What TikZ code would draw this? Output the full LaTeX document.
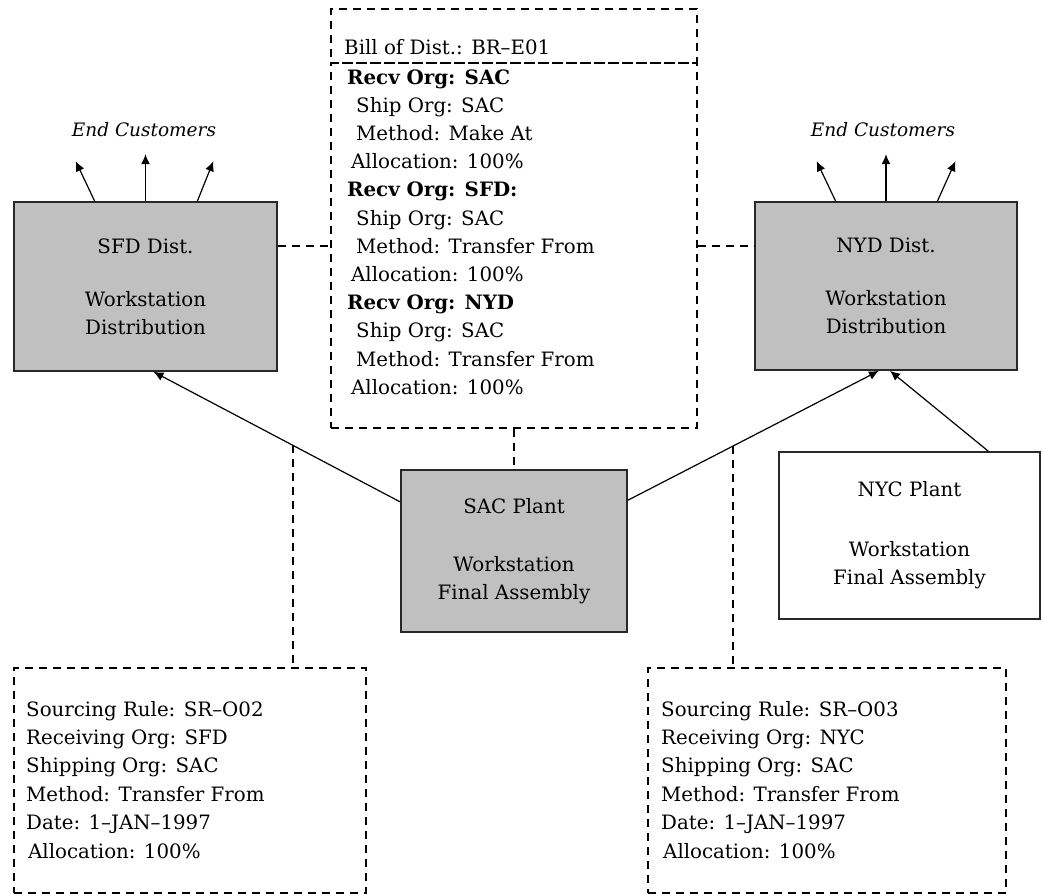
\documentclass[tikz,border=0pt]{standalone}
\usepackage{fontspec}
\setmainfont{DejaVu Serif}
\usetikzlibrary{arrows.meta,calc}
\definecolor{boxgray}{RGB}{192,192,192}
\definecolor{edge}{RGB}{40,40,40}

\begin{document}
\begin{tikzpicture}[x=1pt,y=-1pt,
  every node/.style={font=\fontsize{19.8}{28}\selectfont, inner sep=0pt},
  site/.style={draw=edge, line width=1.6pt, fill=boxgray, align=center},
  plant/.style={draw=edge, line width=1.6pt, fill=white, align=center},
  notebox/.style={draw=black, line width=1.4pt, dash pattern=on 8pt off 6pt},
  link/.style={draw=black, line width=1.5pt, dash pattern=on 8pt off 6pt},
  flow/.style={draw=black, line width=1.2pt, -{Latex[length=10pt,width=9pt]}},
  custlabel/.style={font=\fontsize{18.5}{20}\selectfont\itshape},
  line/.style={anchor=base west}]

\useasboundingbox (0,0) rectangle (1042,894);

% distribution centres and plants
\node[site, minimum width=263pt, minimum height=169pt] (sfd) at (145.5,286.5)
  {SFD Dist.\\[25pt]Workstation\\Distribution};
\node[site, minimum width=262pt, minimum height=168pt] (nyd) at (886,286)
  {NYD Dist.\\[25pt]Workstation\\Distribution};
\node[site, minimum width=226pt, minimum height=162pt] (sac) at (514,551)
  {SAC Plant\\[30pt]Workstation\\Final Assembly};
\node[plant, minimum width=261pt, minimum height=167pt] (nyc) at (909.5,535.5)
  {NYC Plant\\[32pt]Workstation\\Final Assembly};

% bill of distribution
\node[notebox, minimum width=366pt, minimum height=54pt] (bodhead) at (514,36) {};
\node[notebox, minimum width=366pt, minimum height=365pt] (bod) at (514,245.5) {};
\node[line] (bodtitle) at (344,54) {Bill of Dist.: BR–E01};
\foreach \ind/\txt [count=\i] in {
    0/{\textbf{Recv Org: SAC}},
    9/{Ship Org: SAC},
    9/{Method: Make At},
    4/{Allocation: 100\%},
    0/{\textbf{Recv Org: SFD:}},
    9/{Ship Org: SAC},
    9/{Method: Transfer From},
    4/{Allocation: 100\%},
    0/{\textbf{Recv Org: NYD}},
    9/{Ship Org: SAC},
    9/{Method: Transfer From},
    4/{Allocation: 100\%}}
  \node[line] (bodline\i) at ({347+\ind},{84+28.2*(\i-1)}) {\txt};

% sourcing rules
\node[notebox, minimum width=352pt, minimum height=225pt] (srl) at (190,780.5) {};
\node[notebox, minimum width=358pt, minimum height=225pt] (srr) at (827,780.5) {};
\foreach \ind/\txt [count=\i] in {
    0/{Sourcing Rule: SR–O02},
    0/{Receiving Org: SFD},
    0/{Shipping Org: SAC},
    0/{Method: Transfer From},
    0/{Date: 1–JAN–1997},
    2/{Allocation: 100\%}}
  \node[line] (srlline\i) at ({26+\ind},{716+28.4*(\i-1)}) {\txt};
\foreach \ind/\txt [count=\i] in {
    0/{Sourcing Rule: SR–O03},
    0/{Receiving Org: NYC},
    0/{Shipping Org: SAC},
    0/{Method: Transfer From},
    0/{Date: 1–JAN–1997},
    2/{Allocation: 100\%}}
  \node[line] (srrline\i) at ({661+\ind},{716+28.4*(\i-1)}) {\txt};

% end customers
\node[custlabel] (custl) at (144,130) {End Customers};
\node[custlabel] (custr) at (883,130) {End Customers};

\coordinate (sfdo1) at ($(sfd.north west)!0.308!(sfd.north east)$);
\coordinate (sfdo2) at ($(sfd.north west)!0.5!(sfd.north east)$);
\coordinate (sfdo3) at ($(sfd.north west)!0.696!(sfd.north east)$);
\coordinate (nydo1) at ($(nyd.north west)!0.309!(nyd.north east)$);
\coordinate (nydo2) at ($(nyd.north west)!0.5!(nyd.north east)$);
\coordinate (nydo3) at ($(nyd.north west)!0.695!(nyd.north east)$);
\draw[flow] (sfdo1) -- ++(-19,-40);
\draw[flow] (sfdo2) -- ++(0,-47);
\draw[flow] (sfdo3) -- ++(16,-40);
\draw[flow] (nydo1) -- ++(-19,-40);
\draw[flow] (nydo2) -- ++(0,-47);
\draw[flow] (nydo3) -- ++(18,-40);

% shipments between organisations
\coordinate (sacl) at ($(sac.north west)!0.2!(sac.south west)$);
\coordinate (sacr) at ($(sac.north east)!0.19!(sac.south east)$);
\coordinate (sfdin) at ($(sfd.south west)!0.53!(sfd.south east)$);
\coordinate (nydin1) at ($(nyd.south west)!0.473!(nyd.south east)$);
\coordinate (nydin2) at ($(nyd.south west)!0.515!(nyd.south east)$);
\coordinate (nycout) at ($(nyc.north west)!0.8!(nyc.north east)$);
\draw[flow] (sacl) -- coordinate[pos=0.435] (jl) (sfdin);
\draw[flow] (sacr) -- coordinate[pos=0.419] (jr) (nydin1);
\draw[flow] (nycout) -- (nydin2);

% dashed associations
\coordinate (lvl) at (0,246);
\draw[link] (sfd.east |- lvl) -- (bod.west |- lvl);
\draw[link] (bod.east |- lvl) -- (nyd.west |- lvl);
\draw[link] (bod.south) -- (sac.north);
\draw[link] (jl) -- (jl |- srl.north);
\draw[link] (jr) -- (jr |- srr.north);
\end{tikzpicture}
\end{document}
